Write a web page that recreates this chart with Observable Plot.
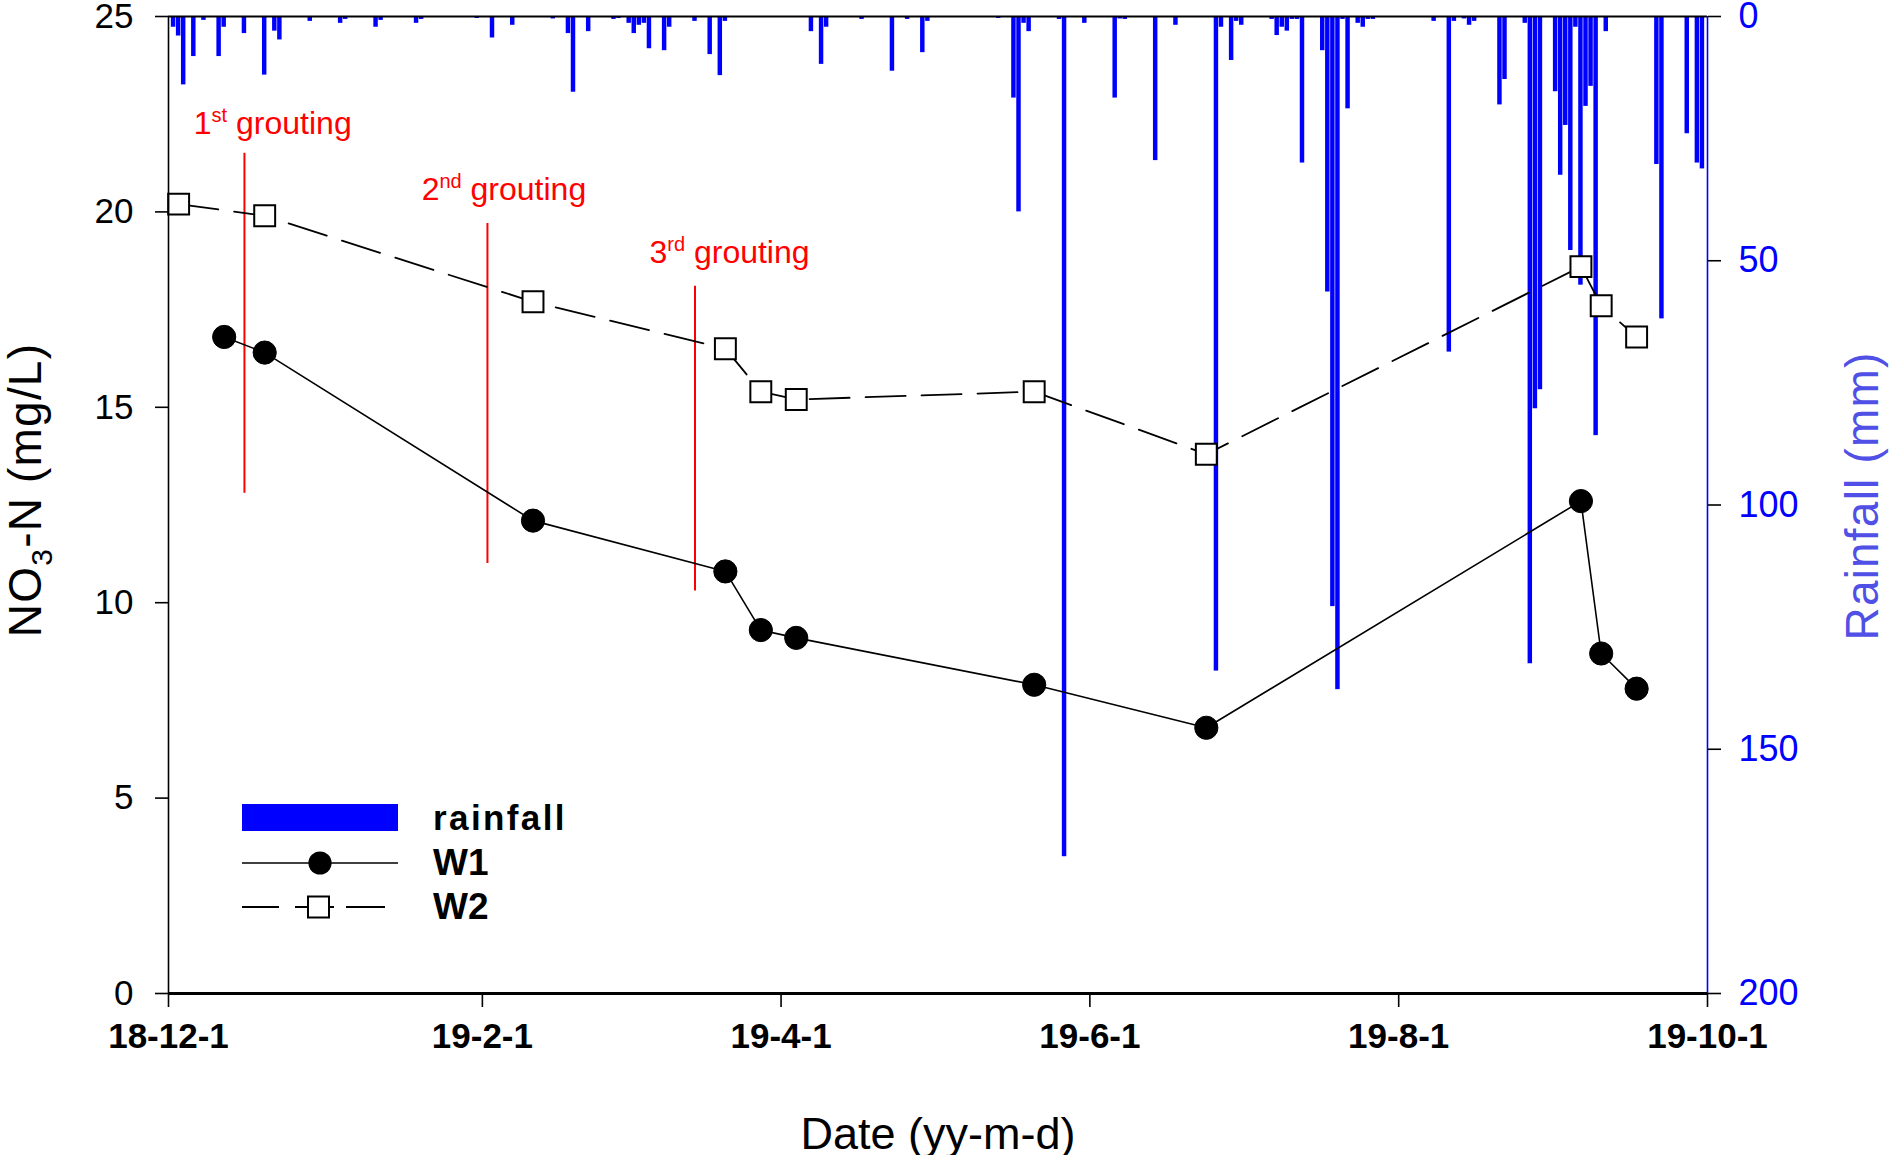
<!DOCTYPE html>
<html>
<head>
<meta charset="utf-8">
<script src="https://cdn.jsdelivr.net/npm/d3@7"></script>
<script src="https://cdn.jsdelivr.net/npm/@observablehq/plot@0.6"></script>
<style>
  body { margin: 0; background: #fff; }
  #wrap { position: relative; width: 1890px; height: 1155px; }
  #legend { position: absolute; left: 0; top: 0; pointer-events: none; }
  svg text { font-family: "Liberation Sans", Arial, sans-serif; }
</style>
</head>
<body>
<div id="wrap"></div>
<script>
// ---- x domain and ticks ----
const startDate = "2018-12-01";
const endDate = "2019-10-01";
const xTickDates = ["2018-12-01", "2019-02-01", "2019-04-01", "2019-06-01", "2019-08-01", "2019-10-01"];

// ---- NO3-N concentration (mg/L) ----
const w1Dates = ["2018-12-12", "2018-12-20", "2019-02-11", "2019-03-21", "2019-03-28", "2019-04-04",
                 "2019-05-21", "2019-06-24", "2019-09-06", "2019-09-10", "2019-09-17"];
const w1Values = [16.8, 16.4, 12.1, 10.8, 9.3, 9.1, 7.9, 6.8, 12.6, 8.7, 7.8];
const w2Dates = ["2018-12-03", "2018-12-20", "2019-02-11", "2019-03-21", "2019-03-28", "2019-04-04",
                 "2019-05-21", "2019-06-24", "2019-09-06", "2019-09-10", "2019-09-17"];
const w2Values = [20.2, 19.9, 17.7, 16.5, 15.4, 15.2, 15.4, 13.8, 18.6, 17.6, 16.8];

// ---- daily rainfall (mm) ----
const rainDates = [
  "2018-12-02","2018-12-03","2018-12-04","2018-12-06","2018-12-08","2018-12-11","2018-12-12","2018-12-16",
  "2018-12-20","2018-12-22","2018-12-23","2018-12-29","2019-01-04","2019-01-05","2019-01-11","2019-01-12",
  "2019-01-19","2019-01-20","2019-01-31","2019-02-03","2019-02-07","2019-02-15","2019-02-18","2019-02-19",
  "2019-02-22","2019-02-27","2019-02-28","2019-03-02","2019-03-03","2019-03-04","2019-03-05","2019-03-06",
  "2019-03-09","2019-03-10","2019-03-15","2019-03-18","2019-03-20","2019-03-21","2019-04-07","2019-04-09",
  "2019-04-10","2019-04-17","2019-04-23","2019-04-26","2019-04-29","2019-04-30","2019-05-14","2019-05-17",
  "2019-05-18","2019-05-19","2019-05-20","2019-05-26","2019-05-27","2019-05-31","2019-06-06","2019-06-07",
  "2019-06-08","2019-06-14","2019-06-18","2019-06-26","2019-06-27","2019-06-29","2019-06-30","2019-07-01",
  "2019-07-07","2019-07-08","2019-07-09","2019-07-10","2019-07-11","2019-07-12","2019-07-13","2019-07-17",
  "2019-07-18","2019-07-19","2019-07-20","2019-07-21","2019-07-22","2019-07-24","2019-07-25","2019-07-26",
  "2019-07-27","2019-08-08","2019-08-11","2019-08-12","2019-08-14","2019-08-15","2019-08-16","2019-08-21",
  "2019-08-22","2019-08-26","2019-08-27","2019-08-28","2019-08-29","2019-09-01","2019-09-02","2019-09-03",
  "2019-09-04","2019-09-05","2019-09-06","2019-09-07","2019-09-08","2019-09-09","2019-09-11","2019-09-21",
  "2019-09-22","2019-09-27","2019-09-29","2019-09-30"
];
const rainMm = [
  2.2, 4, 14, 8.2, 0.8, 8.2, 2.2, 3.5,
  12, 3, 4.8, 1, 1.4, 0.6, 2.2, 0.8,
  1.4, 0.6, 0.4, 4.4, 1.8, 0.5, 3.5, 15.5,
  3.1, 0.6, 0.4, 1.4, 3.5, 1.8, 1.4, 6.6,
  7, 2.2, 1, 7.8, 12.1, 1, 3.1, 9.8,
  2.2, 0.6, 11.2, 0.6, 7.4, 1, 0.4, 16.7,
  40, 1.4, 3.1, 0.6, 172, 1.4, 16.7, 0.5,
  0.6, 29.5, 1.8, 134, 2.2, 9, 1, 1.8,
  0.6, 3.9, 2.2, 3, 0.6, 0.6, 30, 7,
  56.4, 120.8, 137.8, 0.6, 18.9, 1.4, 2.2, 0.6,
  0.6, 1, 68.7, 1, 0.5, 1.8, 1, 18.1,
  12.9, 1.4, 132.5, 80.3, 76.4, 15.4, 32.5, 22.3,
  47.9, 2.2, 55, 18.4, 14.3, 85.8, 3.1, 30.3,
  61.9, 24, 30, 31.2
];

// ---- grouting events ----
const groutDates = ["2018-12-16", "2019-02-02", "2019-03-15"];
const groutTop = [21.5, 19.7, 18.1];
const groutBottom = [12.8, 11.0, 10.3];
const groutOrdinals = ["1", "2", "3"];
const groutSuffixes = ["st", "nd", "rd"];
const groutLabelDates = ["2018-12-06", "2019-01-20", "2019-03-06"];
const groutLabelLevels = [22.0, 20.3, 18.7];

// ---- axis ticks ----
const no3Ticks = [0, 5, 10, 15, 20, 25];
const rainTicks = [0, 50, 100, 150, 200];

// ---- scales shared by both y axes ----
const no3Max = 25;
const rainMax = 200;
// rainfall hangs from the top of the frame: 0 mm at the top, 200 mm at the bottom
const rainToY = mm => no3Max - mm * no3Max / rainMax;
const yToRain = y => Math.round((no3Max - y) * rainMax / no3Max);

const parse = d3.utcParse("%Y-%m-%d");
const w1 = w1Dates.map((d, i) => ({date: parse(d), value: w1Values[i]}));
const w2 = w2Dates.map((d, i) => ({date: parse(d), value: w2Values[i]}));
const rain = rainDates.map((d, i) => ({date: parse(d), mm: rainMm[i]}));
const grout = groutDates.map((d, i) => ({date: parse(d), top: groutTop[i], bottom: groutBottom[i]}));
const groutLabels = groutLabelDates.map((d, i) => ({
  date: parse(d), level: groutLabelLevels[i], text: `${groutOrdinals[i]}${groutSuffixes[i]} grouting`
}));

const fmtDate = d => `${String(d.getUTCFullYear()).slice(2)}-${d.getUTCMonth() + 1}-${d.getUTCDate()}`;
const font = '"Liberation Sans", Arial, sans-serif';
const blue = "#0000ff";
const red = "#ff0000";

const chart = Plot.plot({
  width: 1890,
  height: 1155,
  marginLeft: 168,
  marginRight: 183,
  marginTop: 16,
  marginBottom: 162,
  style: {fontFamily: font, background: "#fff", color: "#000", overflow: "visible"},
  x: {type: "utc", domain: [parse(startDate), parse(endDate)]},
  y: {domain: [0, no3Max]},
  marks: [
    // rainfall bars
    Plot.rect(rain, {
      x1: d => d3.utcHour.offset(d.date, -12),
      x2: d => d3.utcHour.offset(d.date, 12),
      y1: () => no3Max,
      y2: d => rainToY(d.mm),
      fill: blue,
      insetLeft: 0.3,
      insetRight: 0.3
    }),
    // grouting markers
    Plot.ruleX(grout, {x: "date", y1: "bottom", y2: "top", stroke: red, strokeWidth: 2}),
    Plot.text(groutLabels, {
      x: "date", y: "level", text: "text", textAnchor: "start", lineAnchor: "bottom",
      fill: red, fontSize: 32
    }),
    // W2 (dashed, open squares)
    Plot.line(w2, {x: "date", y: "value", stroke: "#000", strokeWidth: 1.8, strokeDasharray: "40,16"}),
    Plot.dot(w2, {x: "date", y: "value", symbol: "square", r: 11.8, fill: "#fff", stroke: "#000", strokeWidth: 2}),
    // W1 (solid, filled circles)
    Plot.line(w1, {x: "date", y: "value", stroke: "#000", strokeWidth: 1.6}),
    Plot.dot(w1, {x: "date", y: "value", r: 11.6, fill: "#000", stroke: "#000", strokeWidth: 1}),
    // frame
    Plot.ruleY([no3Max], {stroke: "#000", strokeWidth: 2}),
    Plot.ruleX([parse(startDate)], {stroke: "#000", strokeWidth: 1.6}),
    Plot.ruleX([parse(endDate)], {stroke: blue, strokeWidth: 1.6}),
    Plot.ruleY([0], {stroke: "#000", strokeWidth: 3.2}),
    // bottom axis
    Plot.axisX(xTickDates.map(parse), {
      tickSize: 14, tickPadding: 16, tickFormat: fmtDate, fontSize: 35, fontWeight: "bold",
      strokeWidth: 1.6, label: null
    }),
    Plot.axisX([], {
      label: "Date (yy-m-d)", labelAnchor: "center", labelOffset: 155, labelArrow: "none",
      tickSize: 0, fontSize: 45
    }),
    // left axis (NO3-N)
    Plot.axisY(no3Ticks, {
      anchor: "left", tickSize: 13, tickPadding: 22, fontSize: 35, strokeWidth: 1.6, label: null
    }),
    Plot.axisY([], {
      anchor: "left", label: "NO3-N (mg/L)", labelAnchor: "center", labelOffset: 160, labelArrow: "none",
      tickSize: 0, fontSize: 46
    }),
    // right axis (rainfall)
    Plot.axisY(rainTicks.map(rainToY), {
      anchor: "right", tickSize: 13, tickPadding: 18, fontSize: 36, fill: blue, stroke: "#000",
      strokeWidth: 1.6, tickFormat: yToRain, label: null
    }),
    Plot.axisY([], {
      anchor: "right", label: "Rainfall (mm)", labelAnchor: "center", labelOffset: 170, labelArrow: "none",
      tickSize: 0, fontSize: 46, fill: "#5050e6"
    })
  ]
});

// superscripts and subscripts in the annotation and axis texts
const svgNS = "http://www.w3.org/2000/svg";
function tspan(parent, txt, attrs = {}) {
  const t = document.createElementNS(svgNS, "tspan");
  for (const [k, v] of Object.entries(attrs)) t.setAttribute(k, v);
  t.textContent = txt;
  parent.appendChild(t);
}
chart.querySelectorAll("text").forEach(el => {
  const s = el.textContent;
  const m = s.match(/^(\d)(st|nd|rd) grouting$/);
  if (m) {
    el.textContent = "";
    tspan(el, m[1]);
    tspan(el, m[2], {dy: -12, "font-size": 20});
    tspan(el, " grouting", {dy: 12});
  } else if (s === "NO3-N (mg/L)") {
    // rotated title: dx moves it along its baseline, i.e. upward
    el.textContent = "";
    el.setAttribute("letter-spacing", 1.2);
    el.setAttribute("dx", 15);
    tspan(el, "NO");
    tspan(el, "3", {dy: 11, "font-size": 30});
    tspan(el, "-N (mg/L)", {dy: -11});
  } else if (s === "Rainfall (mm)") {
    el.setAttribute("letter-spacing", 1.2);
    el.setAttribute("dx", 9);
  }
});

document.getElementById("wrap").appendChild(chart);

// legend drawn over the lower-left of the frame
const legend = d3.select("#wrap").append("svg")
  .attr("id", "legend").attr("width", 1890).attr("height", 1155);
const lx0 = 242, lx1 = 398, ltx = 433;
legend.append("rect").attr("x", lx0).attr("y", 804).attr("width", lx1 - lx0).attr("height", 27).attr("fill", blue);
legend.append("text").attr("x", ltx).attr("y", 830).attr("font-size", 35).attr("font-weight", "bold")
  .attr("letter-spacing", 2.4).text("rainfall");
legend.append("line").attr("x1", lx0).attr("x2", lx1).attr("y1", 863).attr("y2", 863)
  .attr("stroke", "#000").attr("stroke-width", 1.6);
legend.append("circle").attr("cx", 320).attr("cy", 863).attr("r", 11.6).attr("fill", "#000");
legend.append("text").attr("x", ltx).attr("y", 875).attr("font-size", 37).attr("font-weight", "bold").text("W1");
legend.append("line").attr("x1", lx0).attr("x2", lx1).attr("y1", 907).attr("y2", 907)
  .attr("stroke", "#000").attr("stroke-width", 1.8).attr("stroke-dasharray", "37,16,39,12,39");
legend.append("rect").attr("x", 308).attr("y", 896.5).attr("width", 21).attr("height", 21)
  .attr("fill", "#fff").attr("stroke", "#000").attr("stroke-width", 2);
legend.append("text").attr("x", ltx).attr("y", 919).attr("font-size", 37).attr("font-weight", "bold").text("W2");
</script>
</body>
</html>
